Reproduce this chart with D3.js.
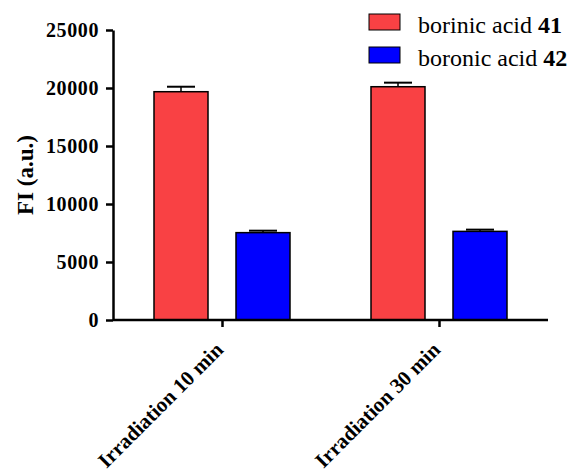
<!DOCTYPE html>
<html><head><meta charset="utf-8">
<script src="https://cdn.jsdelivr.net/npm/d3@7"></script>
<style>body{margin:0;background:#fff}svg{display:block}text{font-family:"Liberation Serif","Times New Roman",serif}</style>
</head><body>
<svg id="c" width="573" height="472"></svg>
<script>
const categories = ["Irradiation 10 min", "Irradiation 30 min"];
const seriesNames = ["borinic acid ", "boronic acid "];
const seriesNums = ["41", "42"];
const seriesColors = ["#f94144", "#0000ff"];
const borinic = [19680, 20110];
const borinicErr = [430, 350];
const boronic = [7530, 7640];
const boronicErr = [170, 150];
const yTicks = [0, 5000, 10000, 15000, 20000, 25000];

(function () {
const svg = d3.select("#c");
const mLeft = 113, mRight = 548, mTop = 30, mBottom = 320;
const y = d3.scaleLinear().domain([0, 25000]).range([mBottom, mTop]);
const x = d3.scalePoint().domain(categories).range([222, 439]);
const values = [borinic, boronic];
const errs = [borinicErr, boronicErr];
const offsets = [-41, 41];
const barW = 54;
const font = '"Liberation Serif", "Times New Roman", serif';

// bars
values.forEach((vals, s) => {
  categories.forEach((c, i) => {
    const cx = x(c) + offsets[s];
    const v = vals[i], e = errs[s][i];
    svg.append("line").attr("x1", cx).attr("x2", cx).attr("y1", y(v)).attr("y2", y(v + e))
      .attr("stroke", "#000").attr("stroke-width", 1.5);
    svg.append("line").attr("x1", cx - 14).attr("x2", cx + 14).attr("y1", y(v + e)).attr("y2", y(v + e))
      .attr("stroke", "#000").attr("stroke-width", 2);
    svg.append("rect").attr("x", cx - barW / 2).attr("y", y(v)).attr("width", barW)
      .attr("height", y(0) - y(v)).attr("fill", seriesColors[s]).attr("stroke", "#000").attr("stroke-width", 1.5);
  });
});

// y axis
const ya = svg.append("g").attr("transform", `translate(${mLeft},0)`)
  .call(d3.axisLeft(y).tickValues(yTicks).tickSize(7).tickSizeOuter(0).tickFormat(d3.format("d")));
ya.attr("font-family", null);
ya.select(".domain").attr("stroke-width", 2.5);
ya.selectAll(".tick line").attr("stroke-width", 2.5);
ya.selectAll("text").style("font-family", font).style("font-weight", "bold").style("font-size", "20px")
  .style("letter-spacing", "0.6px").attr("fill", "#000").attr("x", -14);

// x axis
const xa = svg.append("g").attr("transform", `translate(0,${mBottom})`)
  .call(d3.axisBottom(x).tickSize(7).tickSizeOuter(0));
xa.attr("font-family", null);
xa.select(".domain").attr("d", `M${mLeft},0H${mRight}`).attr("stroke-width", 2.5);
xa.selectAll(".tick line").attr("stroke-width", 2.5);
xa.selectAll("text").style("font-family", font).style("font-weight", "bold").style("font-size", "21px").attr("fill", "#000")
  .attr("text-anchor", "end").attr("transform", "translate(2,31) rotate(-45)").attr("dy", "0").attr("y", 0);

// y title
svg.append("text").attr("transform", "translate(33,175) rotate(-90)").attr("text-anchor", "middle")
  .style("font-family", font).style("font-weight", "bold").style("font-size", "23px").text("FI (a.u.)");

// legend
seriesNames.forEach((n, s) => {
  const ly = 14 + s * 33;
  svg.append("rect").attr("x", 369).attr("y", ly).attr("width", 31).attr("height", 16)
    .attr("fill", seriesColors[s]).attr("stroke", "#000").attr("stroke-width", 1);
  const t = svg.append("text").attr("x", 418).attr("y", ly + 19).style("font-family", font).style("font-size", "24px");
  t.append("tspan").text(n);
  t.append("tspan").style("font-weight", "bold").text(seriesNums[s]);
});
})();
</script>
</body></html>
